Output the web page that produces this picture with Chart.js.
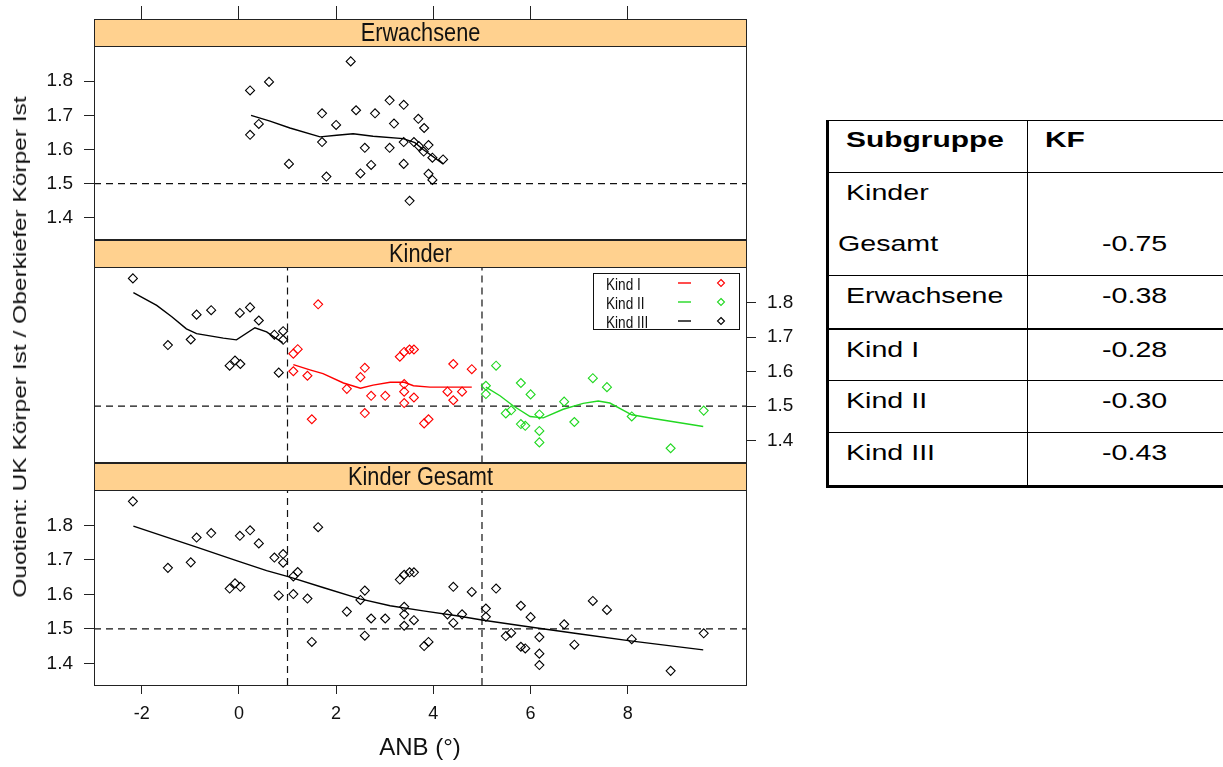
<!DOCTYPE html>
<html lang="de">
<head>
<meta charset="UTF-8">
<script src="https://cdn.jsdelivr.net/npm/chart.js"></script>
<title>ANB / Quotient</title>
<style>
  body { margin:0; background:#fff; width:1223px; height:767px; position:relative; overflow:hidden; font-family:"Liberation Sans", Arial, sans-serif; }
  canvas.panel { position:absolute; left:0; }
  #ytitle { position:absolute; left:20px; top:347px; white-space:nowrap; font-size:19px; color:#111;
            transform: translate(-50%,-50%) rotate(-90deg) scaleX(1.29); }
  #kf { position:absolute; left:826px; top:120px; border-collapse:collapse; table-layout:fixed; width:430px;
        font-size:22px; line-height:22px; color:#000; }
  #kf td, #kf th { border:1px solid #000; padding:9px 0 0 0; vertical-align:top; text-align:left; font-weight:normal; }
  #kf thead tr { height:52px; }
  #kf th { font-weight:bold; padding-top:8px; }
  #kf tr > :first-child { border-left:3px solid #000; }
  #kf tbody tr:last-child td { border-bottom:3px solid #000; }
  #kf tr.thick td { border-top:2px solid #000; }
  #kf .t { display:inline-block; transform:scaleX(1.3); transform-origin:left; white-space:nowrap; }
  #kf th .t { transform:scaleX(1.36); }
</style>
</head>
<body>
<canvas id="p1" class="panel" width="810" height="245" style="top:0"></canvas>
<canvas id="p2" class="panel" width="810" height="230" style="top:238px"></canvas>
<canvas id="p3" class="panel" width="810" height="306" style="top:461px"></canvas>
<div id="ytitle">Ouotient: UK Körper Ist / Oberkiefer Körper Ist</div>
<table id="kf">
  <colgroup><col style="width:200px"><col style="width:230px"></colgroup>
  <thead><tr><th><span class="t" style="margin-left:17px">Subgruppe</span></th><th><span class="t" style="margin-left:17px">KF</span></th></tr></thead>
  <tbody></tbody>
</table>
<script>
// achsen
const xTicks = [-2, 0, 2, 4, 6, 8];
const yTicks = [1.4, 1.5, 1.6, 1.7, 1.8];
const xMin = -2.98, xMax = 10.43, yMin = 1.337, yMax = 1.903;
const refQ = 1.5;          // gestrichelte Linie
const anbCuts = [1, 5];    // Grenzen Kind I / II / III

// Erwachsene
const adultAnb = [0.23, 0.62, 2.30, 0.23, 0.41, 1.03, 1.71, 1.71, 1.80, 2.00, 2.41, 2.50, 2.59, 2.72, 2.80, 3.10,
                  3.10, 3.19, 3.39, 3.39, 3.39, 3.51, 3.60, 3.69, 3.70, 3.80, 3.81, 3.90, 3.90, 3.98, 3.98, 4.20];
const adultQ   = [1.773, 1.798, 1.858, 1.643, 1.675, 1.558, 1.706, 1.622, 1.521, 1.672, 1.715, 1.530, 1.605, 1.555, 1.706, 1.744,
                  1.605, 1.676, 1.731, 1.622, 1.558, 1.450, 1.622, 1.690, 1.610, 1.594, 1.663, 1.613, 1.529, 1.511, 1.576, 1.571];
const adultFitAnb = [0.25, 0.64, 1.05, 1.67, 2.01, 2.35, 2.76, 3.38, 3.62, 3.79, 4.20];
const adultFitQ   = [1.700, 1.683, 1.663, 1.637, 1.642, 1.646, 1.639, 1.632, 1.620, 1.600, 1.558];

// Kind I (ANB 1..5)
const k1Anb = [1.63, 1.12, 1.21, 1.12, 1.41, 1.50, 2.22, 2.50, 2.59, 2.59, 2.72, 3.01, 3.31, 3.40, 3.51, 3.60,
               3.40, 3.40, 3.40, 3.60, 3.81, 3.90, 4.29, 4.41, 4.41, 4.59, 4.79];
const k1Q   = [1.795, 1.652, 1.665, 1.601, 1.588, 1.462, 1.550, 1.584, 1.611, 1.480, 1.530, 1.530, 1.643, 1.657, 1.664, 1.664,
               1.564, 1.542, 1.509, 1.525, 1.450, 1.462, 1.542, 1.622, 1.517, 1.542, 1.607];
const k1FitAnb = [1.12, 1.46, 1.73, 2.15, 2.50, 2.76, 3.11, 3.40, 3.59, 3.93, 4.79];
const k1FitQ   = [1.620, 1.605, 1.594, 1.567, 1.552, 1.561, 1.569, 1.569, 1.559, 1.555, 1.555];

// Kind II (ANB > 5)
const k2Anb = [5.08, 5.08, 5.29, 5.49, 5.60, 5.80, 5.80, 5.89, 6.00, 6.18, 6.18, 6.18, 6.69, 6.90, 7.28, 7.57, 8.08, 8.88, 9.56];
const k2Q   = [1.559, 1.535, 1.617, 1.479, 1.488, 1.567, 1.448, 1.443, 1.534, 1.476, 1.428, 1.395, 1.513, 1.454, 1.581, 1.555, 1.470, 1.378, 1.487];
const k2FitAnb = [5.08, 5.37, 5.64, 5.99, 6.26, 6.67, 7.08, 7.39, 7.63, 8.08, 8.52, 9.07, 9.55];
const k2FitQ   = [1.555, 1.530, 1.501, 1.470, 1.466, 1.491, 1.508, 1.515, 1.509, 1.475, 1.464, 1.452, 1.441];

// Kind III (ANB < 1)
const k3Anb = [-2.18, -1.46, -0.99, -0.87, -0.57, -0.19, -0.08, 0.03, 0.02, 0.23, 0.41, 0.73, 0.91, 0.91, 0.82];
const k3Q   = [1.870, 1.677, 1.693, 1.765, 1.778, 1.617, 1.632, 1.622, 1.770, 1.786, 1.748, 1.707, 1.717, 1.692, 1.597];
const k3FitAnb = [-2.17, -1.69, -1.38, -1.08, -0.87, -0.32, -0.05, 0.33, 0.57, 0.78, 0.90];
const k3FitQ   = [1.829, 1.792, 1.759, 1.724, 1.710, 1.697, 1.692, 1.727, 1.715, 1.695, 1.684];

// Kinder gesamt, Glaettung
const allFitAnb = [-2.17, -1.49, -0.87, -0.05, 0.57, 1.05, 1.73, 2.49, 3.11, 3.79, 4.48, 5.03, 6.06, 7.02, 8.05, 9.55];
const allFitQ   = [1.798, 1.766, 1.737, 1.698, 1.669, 1.650, 1.620, 1.587, 1.567, 1.552, 1.538, 1.525, 1.504, 1.485, 1.465, 1.439];

// Tabelle
const subgroups = ['Kinder Gesamt', 'Erwachsene', 'Kind I', 'Kind II', 'Kind III'];
const kfValues  = [-0.75, -0.38, -0.28, -0.30, -0.43];

const RED = '#ff0000', GREEN = '#22d822', BLACK = '#000000';
const sans = '"Liberation Sans", Arial, sans-serif';

function pts(xs, ys) { return xs.map((x, i) => ({x: x, y: ys[i]})); }

function points(xs, ys, color) {
  return { data: pts(xs, ys), pointStyle: 'rectRot', pointRadius: 4.5, pointHoverRadius: 4.5,
           borderColor: color, backgroundColor: 'rgba(0,0,0,0)', borderWidth: 1.1, showLine: false };
}
function fit(xs, ys, color) {
  return { data: pts(xs, ys), showLine: true, pointRadius: 0, borderColor: color, borderWidth: 1.4, tension: 0 };
}
function dashed(data) {
  return { data: data, showLine: true, pointRadius: 0, borderColor: '#111', borderWidth: 1.2, borderDash: [7, 5] };
}
function refLines(withCuts) {
  const out = [dashed([{x: xMin, y: refQ}, {x: xMax, y: refQ}])];
  if (withCuts) anbCuts.forEach(c => out.push(dashed([{x: c, y: yMin}, {x: c, y: yMax}])));
  return out;
}

function yAxis(position) {
  return {
    type: 'linear', position: position, min: yMin, max: yMax,
    afterBuildTicks: s => { s.ticks = yTicks.map(v => ({value: v})); },
    afterFit: s => {
      s.width = position === 'left' ? 94 : 64;
      s.paddingTop = 0;      // Beschriftung liegt nicht am Rand
      s.paddingBottom = 0;
    },
    grid: { drawOnChartArea: false, tickLength: 10, color: '#222' },
    border: { display: false },
    ticks: { padding: 11, color: '#111', font: { family: sans, size: 19 }, callback: v => v.toFixed(1) }
  };
}
function xAxis(kind) {
  const ax = {
    type: 'linear', min: xMin, max: xMax,
    afterBuildTicks: s => { s.ticks = xTicks.map(v => ({value: v})); },
    grid: { drawOnChartArea: false, color: '#222' },
    border: { display: false },
    ticks: { color: '#111', font: { family: sans, size: 18 }, maxRotation: 0, autoSkip: false }
  };
  if (kind === 'top') {
    ax.position = 'top';
    ax.grid.tickLength = 40;       // Striche oberhalb des Streifens
    ax.ticks.display = false;
    ax.afterFit = s => { s.height = 46; };
  } else if (kind === 'bottom') {
    ax.position = 'bottom';
    ax.grid.tickLength = 9;
    ax.ticks.padding = 9;
    ax.afterFit = s => { s.height = 82; };
    ax.title = { display: true, text: 'ANB (°)', color: '#111', font: { family: sans, size: 24 }, padding: { top: 0, bottom: 4 } };
  } else {
    ax.display = false;
  }
  return ax;
}

// Streifen, Rahmen und Legende wie bei lattice
const lattice = {
  id: 'lattice',
  afterDraw(chart, args, opts) {
    const ctx = chart.ctx, a = chart.chartArea;
    const l = Math.round(a.left) + 0.5, t = Math.round(a.top) + 0.5;
    const w = Math.round(a.right - a.left), h = Math.round(a.bottom - a.top), sh = 27;
    ctx.save();
    ctx.fillStyle = '#ffd18f';
    ctx.fillRect(l, t - sh, w, sh);
    ctx.strokeStyle = '#222';
    ctx.lineWidth = 1;
    ctx.strokeRect(l, t - sh, w, sh);
    ctx.strokeRect(l, t, w, h);

    // Streifentext etwas schmaler gesetzt
    ctx.save();
    ctx.translate(l + w / 2, t - sh / 2 + 1);
    ctx.scale(0.87, 1);
    ctx.fillStyle = '#111';
    ctx.font = '25px ' + sans;
    ctx.textAlign = 'center';
    ctx.textBaseline = 'middle';
    ctx.fillText(opts.title, 0, 0);
    ctx.restore();

    if (opts.legend) {
      const bx = a.right - 153, by = a.top + 6;
      ctx.fillStyle = '#fff';
      ctx.fillRect(bx, by, 146, 56);
      ctx.strokeStyle = '#111';
      ctx.strokeRect(bx + 0.5, by + 0.5, 146, 56);
      ctx.textAlign = 'left';
      ctx.textBaseline = 'middle';
      opts.legend.forEach((it, i) => {
        const cy = by + 10 + i * 19;
        ctx.save();
        ctx.translate(bx + 13, cy + 3);
        ctx.scale(0.85, 1);
        ctx.fillStyle = '#111';
        ctx.font = '16px ' + sans;
        ctx.fillText(it.label, 0, 0);
        ctx.restore();
        ctx.strokeStyle = it.color;
        ctx.lineWidth = 1.4;
        ctx.beginPath(); ctx.moveTo(bx + 85, cy); ctx.lineTo(bx + 98, cy); ctx.stroke();
        ctx.lineWidth = 1.1;
        ctx.beginPath();
        ctx.moveTo(bx + 128, cy - 3.5); ctx.lineTo(bx + 131.5, cy); ctx.lineTo(bx + 128, cy + 3.5); ctx.lineTo(bx + 124.5, cy);
        ctx.closePath(); ctx.stroke();
      });
    }
    ctx.restore();
  }
};

function panel(id, datasets, scales, padding, deco) {
  return new Chart(document.getElementById(id), {
    type: 'scatter',
    data: { datasets: datasets },
    options: {
      responsive: false, animation: false, events: [],
      layout: { padding: padding },
      scales: scales,
      plugins: { legend: { display: false }, tooltip: { enabled: false }, lattice: deco }
    },
    plugins: [lattice]
  });
}

// Erwachsene
panel('p1',
  [points(adultAnb, adultQ, BLACK), fit(adultFitAnb, adultFitQ, BLACK)].concat(refLines(false)),
  { x: xAxis('top'), y: yAxis('left') },
  { left: 0, right: 64, top: 0, bottom: 5 },
  { title: 'Erwachsene' });

// Kinder nach Gruppe
panel('p2',
  [points(k1Anb, k1Q, RED), points(k2Anb, k2Q, GREEN), points(k3Anb, k3Q, BLACK),
   fit(k1FitAnb, k1FitQ, RED), fit(k2FitAnb, k2FitQ, GREEN), fit(k3FitAnb, k3FitQ, BLACK)].concat(refLines(true)),
  { x: xAxis('none'), y: yAxis('right') },
  { left: 94, right: 0, top: 29, bottom: 5 },
  { title: 'Kinder', legend: [ {label: 'Kind I', color: RED}, {label: 'Kind II', color: GREEN}, {label: 'Kind III', color: BLACK} ] });

// Kinder gesamt
panel('p3',
  [points(k1Anb.concat(k2Anb, k3Anb), k1Q.concat(k2Q, k3Q), BLACK), fit(allFitAnb, allFitQ, BLACK)].concat(refLines(true)),
  { x: xAxis('bottom'), y: yAxis('left') },
  { left: 0, right: 64, top: 29, bottom: 0 },
  { title: 'Kinder Gesamt' });

// Korrelationstabelle
const rowHeights = [103, 53, 52, 52, 54];
const tbody = document.querySelector('#kf tbody');
subgroups.forEach((name, i) => {
  const tr = document.createElement('tr');
  tr.style.height = rowHeights[i] + 'px';
  if (name === 'Kind I') tr.className = 'thick';
  const val = kfValues[i].toFixed(2);
  let left, right;
  if (name === 'Kinder Gesamt') {
    const parts = name.split(' ');
    left = '<div><span class="t" style="margin-left:17px">' + parts[0] + '</span></div>' +
           '<div style="margin-top:29px"><span class="t" style="margin-left:9px">' + parts[1] + '</span></div>';
    right = '<div style="height:22px"></div><div style="margin-top:29px"><span class="t" style="margin-left:74px">' + val + '</span></div>';
  } else {
    left = '<span class="t" style="margin-left:17px">' + name + '</span>';
    right = '<span class="t" style="margin-left:74px">' + val + '</span>';
  }
  tr.innerHTML = '<td>' + left + '</td><td>' + right + '</td>';
  tbody.appendChild(tr);
});
</script>
</body>
</html>
